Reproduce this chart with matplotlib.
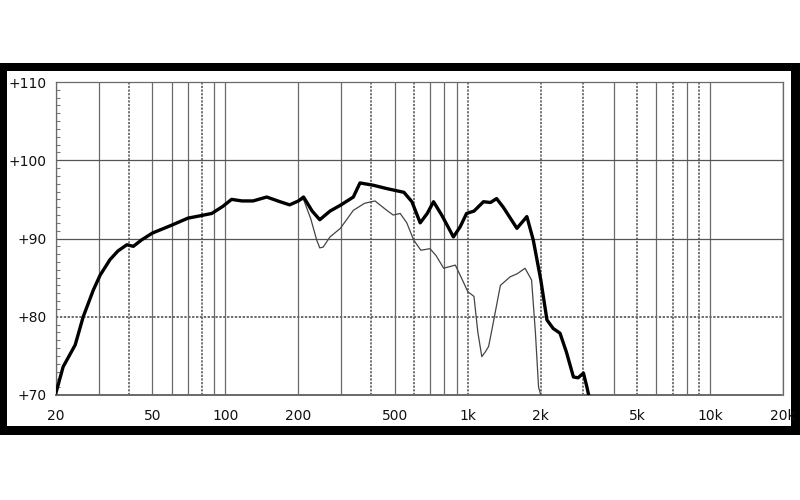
import matplotlib
matplotlib.use("Agg")
import matplotlib.pyplot as plt
from matplotlib.patches import Rectangle
from matplotlib.ticker import FixedLocator, MultipleLocator, NullFormatter

# ---- data ----
thick_f = [20, 21.4, 24, 25.9, 28.5, 30.4, 33.4, 36, 39.2, 41.7, 45, 50, 60, 70,
           78.6, 87.8, 97.5, 106, 117, 130, 148, 168, 184, 200, 210, 228, 245,
           270, 300, 337, 359, 408, 460, 492, 545, 588, 636, 680, 722, 780, 872,
           930, 988, 1060, 1160, 1240, 1314, 1400, 1594, 1752, 1862, 2000, 2120,
           2250, 2400, 2550, 2727, 2850, 2999, 3100, 3150]
thick_db = [70.3, 73.6, 76.4, 80.0, 83.4, 85.3, 87.3, 88.4, 89.2, 89.0, 89.8, 90.7,
            91.7, 92.6, 92.9, 93.2, 94.1, 95.0, 94.8, 94.8, 95.3, 94.7, 94.3, 94.8,
            95.3, 93.5, 92.4, 93.5, 94.3, 95.3, 97.1, 96.8, 96.4, 96.2, 95.9, 94.7,
            92.0, 93.2, 94.7, 93.0, 90.2, 91.5, 93.2, 93.5, 94.7, 94.6, 95.1, 94.0,
            91.3, 92.8, 89.8, 84.7, 79.6, 78.5, 77.9, 75.5, 72.3, 72.2, 72.8, 71.0,
            70.0]

thin_f = [200, 210, 225, 238, 245, 253, 270, 298, 337, 375, 414, 463, 492, 526,
          560, 598, 640, 698, 740, 795, 888, 940, 1000, 1060, 1100, 1142, 1180,
          1218, 1260, 1362, 1494, 1600, 1722, 1832, 1900, 1958, 2000]
thin_db = [94.8, 95.0, 92.5, 89.8, 88.8, 88.9, 90.2, 91.3, 93.6, 94.5, 94.8, 93.6,
           93.0, 93.2, 92.0, 89.8, 88.5, 88.7, 87.8, 86.2, 86.6, 85.0, 83.2, 82.6,
           78.0, 74.9, 75.5, 76.2, 78.5, 84.0, 85.1, 85.5, 86.2, 84.7, 78.0, 71.0,
           70.0]

x_ticks = [20, 50, 100, 200, 500, 1000, 2000, 5000, 10000, 20000]
x_labels = ["20", "50", "100", "200", "500", "1k", "2k", "5k", "10k", "20k"]
y_ticks = [70, 80, 90, 100, 110]
y_labels = ["+70", "+80", "+90", "+100", "+110"]

plt.rcParams['font.family'] = ['DejaVu Sans']

fig = plt.figure(figsize=(8, 5), dpi=100)
fig.patch.set_facecolor('white')
# black frame and inner white panel
fig.patches.append(Rectangle((0, 0.13), 1.0, 0.744, transform=fig.transFigure,
                             facecolor='black', edgecolor='none', zorder=-2))
fig.patches.append(Rectangle((0.00875, 0.148), 0.98, 0.71, transform=fig.transFigure,
                             facecolor='white', edgecolor='none', zorder=-1))

ax = fig.add_axes([0.07, 0.21, 0.909, 0.626])
ax.set_facecolor('white')
ax.set_xscale('log')
ax.set_xlim(20, 20000)
ax.set_ylim(70, 110)

# grid
dotted_f = {40, 80, 400, 600, 1000, 2000, 3000, 5000, 7000, 9000}
for d in [10, 100, 1000, 10000]:
    for m in range(1, 10):
        f = d * m
        if f < 20 or f > 20000:
            continue
        if f in dotted_f:
            ax.axvline(f, color='#6a6a6a', lw=1.3, ls=(0, (1.2, 0.8)), zorder=1)
        else:
            ax.axvline(f, color='#6a6a6a', lw=0.9, zorder=1)
ax.axvline(20000, color='#6a6a6a', lw=0.9, zorder=1)
for y in [90, 100]:
    ax.axhline(y, color='#555555', lw=0.9, zorder=1)
ax.axhline(80, color='#6a6a6a', lw=1.4, ls=(0, (1.2, 0.8)), zorder=1)

# curves
ax.plot(thin_f, thin_db, color='#444444', lw=0.9, zorder=3)
ax.plot(thick_f, thick_db, color='black', lw=2.4, zorder=4, solid_joinstyle='round')

# ticks
ax.xaxis.set_major_locator(FixedLocator(x_ticks))
ax.set_xticklabels(x_labels)
ax.xaxis.set_minor_formatter(NullFormatter())
ax.xaxis.set_minor_locator(FixedLocator([]))
ax.tick_params(axis='x', which='major', length=0, pad=10, labelsize=10, labelcolor='#111111')
ax.set_yticks(y_ticks)
ax.set_yticklabels(y_labels)
ax.yaxis.set_minor_locator(MultipleLocator(1))
ax.tick_params(axis='y', which='major', length=0, pad=7, labelsize=10, labelcolor='#111111')
ax.tick_params(axis='y', which='minor', direction='in', length=3, width=0.8, color='#777777')

for s in ax.spines.values():
    s.set_color('#6a6a6a')
    s.set_linewidth(0.9)
ax.spines['bottom'].set_linewidth(1.4)
ax.spines['bottom'].set_linestyle((0, (1.2, 0.8)))

fig.savefig('out.png', dpi=100)
